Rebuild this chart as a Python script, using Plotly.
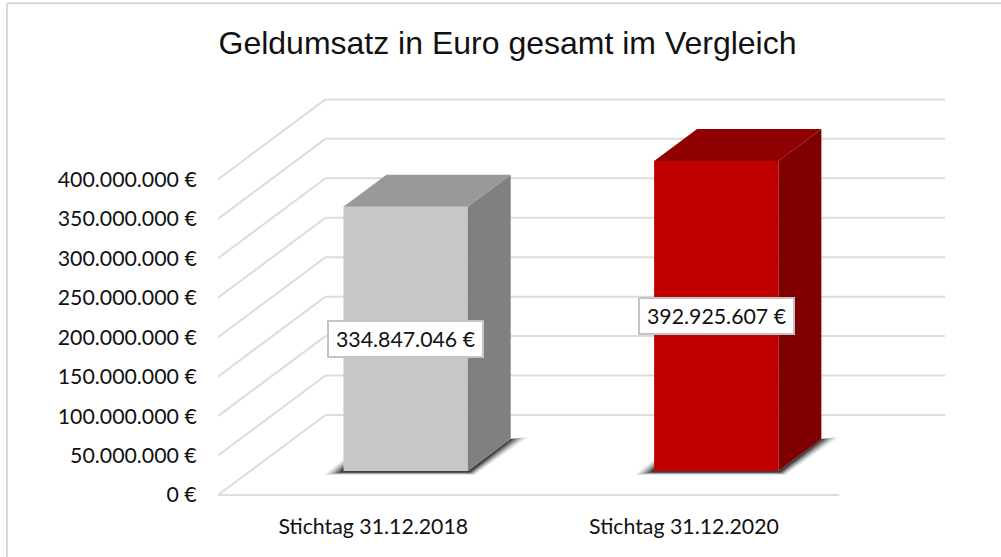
import plotly.graph_objects as go

title = "Geldumsatz in Euro gesamt im Vergleich"
categories = ["Stichtag 31.12.2018", "Stichtag 31.12.2020"]
values = [334847046, 392925607]
value_labels = ["334.847.046 €", "392.925.607 €"]
front_colors = ["#c8c8c8", "#c00000"]
top_colors = ["#999999", "#900000"]
side_colors = ["#808080", "#7f0000"]
tick_values = [0, 50000000, 100000000, 150000000, 200000000,
               250000000, 300000000, 350000000, 400000000]
tick_labels = ["0 €", "50.000.000 €", "100.000.000 €", "150.000.000 €", "200.000.000 €",
               "250.000.000 €", "300.000.000 €", "350.000.000 €", "400.000.000 €"]

# plot frame in page pixels (PAD keeps the outer gridlines from being clipped)
W, H = 1001, 557
L, R, T, B = 218.0, 945.0, 98.7, 494.7
PAD = 3.0
PX_PER_EURO = 315.6 / 400000000
PX_PER_BAND = 310.65
DEPTH_X, DEPTH_Y = 107.5, 80.0
X_RANGE = [-0.5, -0.5 + (R - L) / PX_PER_BAND]
Y_RANGE = [-PAD / PX_PER_EURO, (B - T + PAD) / PX_PER_EURO]
BAR_W = 0.4
Z0, Z1 = 0.3, 0.7
LABEL_FONT = dict(family="Lato", size=21.3, color="#111111")


def proj(cat, val, z):
    """Oblique projection of (category, value, depth) to the 2D axes."""
    return cat + z * DEPTH_X / PX_PER_BAND, val + z * DEPTH_Y / PX_PER_EURO


def offset(pt, dx, dy):
    return pt[0] + dx / PX_PER_BAND, pt[1] - dy / PX_PER_EURO


def poly(pts, color, opacity=1.0):
    xs = [p[0] for p in pts] + [pts[0][0]]
    ys = [p[1] for p in pts] + [pts[0][1]]
    return go.Scatter(x=xs, y=ys, mode="lines", fill="toself", fillcolor=color,
                      line=dict(width=0), opacity=opacity, hoverinfo="skip", showlegend=False)


fig = go.Figure()

# gridlines: front edge -> back corner -> back wall
grid = dict(color="#dcdcdc", width=2)
shapes = []
for v in tick_values:
    a = proj(-0.5, v, 0)
    b = proj(-0.5, v, 1)
    c = proj(1.5, v, 1)
    shapes.append(dict(type="line", xref="x", yref="y", layer="below", line=grid,
                       x0=a[0], y0=a[1], x1=b[0], y1=b[1]))
    shapes.append(dict(type="line", xref="x", yref="y", layer="below", line=grid,
                       x0=b[0], y0=b[1], x1=c[0], y1=c[1]))
f0 = proj(-0.5, 0, 0)
f1 = proj(1.5, 0, 0)
shapes.append(dict(type="line", xref="x", yref="y", layer="below", line=grid,
                   x0=f0[0], y0=f0[1], x1=f1[0], y1=f1[1]))

# chart frame
px = lambda p: (p - L) / (R - L)
py = lambda p: (B + PAD - p) / (B - T + 2 * PAD)
frame = dict(color="#d9d9d9", width=2)
shapes.append(dict(type="line", xref="paper", yref="paper", line=frame,
                   x0=px(7), x1=px(7), y0=py(3), y1=py(557)))
shapes.append(dict(type="line", xref="paper", yref="paper", line=frame,
                   x0=px(7), x1=px(1001), y0=py(3), y1=py(3)))

# front faces
bar_x = [proj(i, 0, Z0)[0] for i in range(len(categories))]
bar_base = [proj(i, 0, Z0)[1] for i in range(len(categories))]
fig.add_trace(go.Bar(x=bar_x, y=values, base=bar_base, width=BAR_W,
                     marker=dict(color=front_colors, line=dict(width=0)),
                     hoverinfo="skip", showlegend=False))

for i, v in enumerate(values):
    xl, xr = i - BAR_W / 2, i + BAR_W / 2
    # soft floor shadow, built up from stacked translucent layers
    for grow, alpha in [(1.0, 0.06), (0.8, 0.10), (0.6, 0.14), (0.4, 0.20), (0.2, 0.28), (0.0, 0.40)]:
        fl = proj(xl, 0, Z0)
        fr = proj(xr, 0, Z0)
        br = proj(xr, 0, Z1)
        pts = [
            offset(fl, -4 - 16 * grow, 1.5 + 2.5 * grow),
            offset(fl, 0, -3 - 9 * grow),
            fl,
            fr,
            br,
            offset(br, 3 + 15 * grow, -0.5 - 1.5 * grow),
            offset(fr, 2 + 5 * grow, 1.5 + 2.5 * grow),
        ]
        fig.add_trace(poly(pts, "#000000", alpha))
    # right side face
    fig.add_trace(poly([proj(xr, 0, Z0), proj(xr, 0, Z1), proj(xr, v, Z1), proj(xr, v, Z0)],
                       side_colors[i]))
    # top face
    fig.add_trace(poly([proj(xl, v, Z0), proj(xr, v, Z0), proj(xr, v, Z1), proj(xl, v, Z1)],
                       top_colors[i]))

annotations = []
for i, v in enumerate(values):
    cx, cy = proj(i, v / 2, Z0)
    annotations.append(dict(x=cx, y=cy, xref="x", yref="y", text=value_labels[i], showarrow=False,
                            font=LABEL_FONT,
                            bgcolor="#ffffff", bordercolor="#c4c4c4", borderwidth=2,
                            width=153, height=34, borderpad=0, align="center"))

fig.update_layout(
    width=W, height=H,
    margin=dict(l=L, r=W - R, t=T - PAD, b=H - B - PAD, pad=0, autoexpand=False),
    paper_bgcolor="#ffffff", plot_bgcolor="rgba(0,0,0,0)",
    showlegend=False, hovermode=False, barmode="overlay",
    title=dict(text=title, x=507.5 / W, xanchor="center", y=1 - 43 / H, yanchor="middle",
               font=dict(family="Liberation Sans", size=32, color="#111111")),
    xaxis=dict(range=X_RANGE, tickmode="array", tickvals=list(range(len(categories))), ticktext=categories,
               showgrid=False, zeroline=False, showline=False, ticks="outside", ticklen=9,
               tickcolor="rgba(0,0,0,0)", tickfont=LABEL_FONT),
    yaxis=dict(range=Y_RANGE, tickmode="array", tickvals=tick_values, ticktext=tick_labels,
               showgrid=False, zeroline=False, showline=False, ticks="outside", ticklen=16,
               tickcolor="rgba(0,0,0,0)", tickfont=LABEL_FONT),
    shapes=shapes, annotations=annotations,
)

fig.write_html("out.html", config={"displayModeBar": False},
               post_script="document.body.style.margin='0';")
